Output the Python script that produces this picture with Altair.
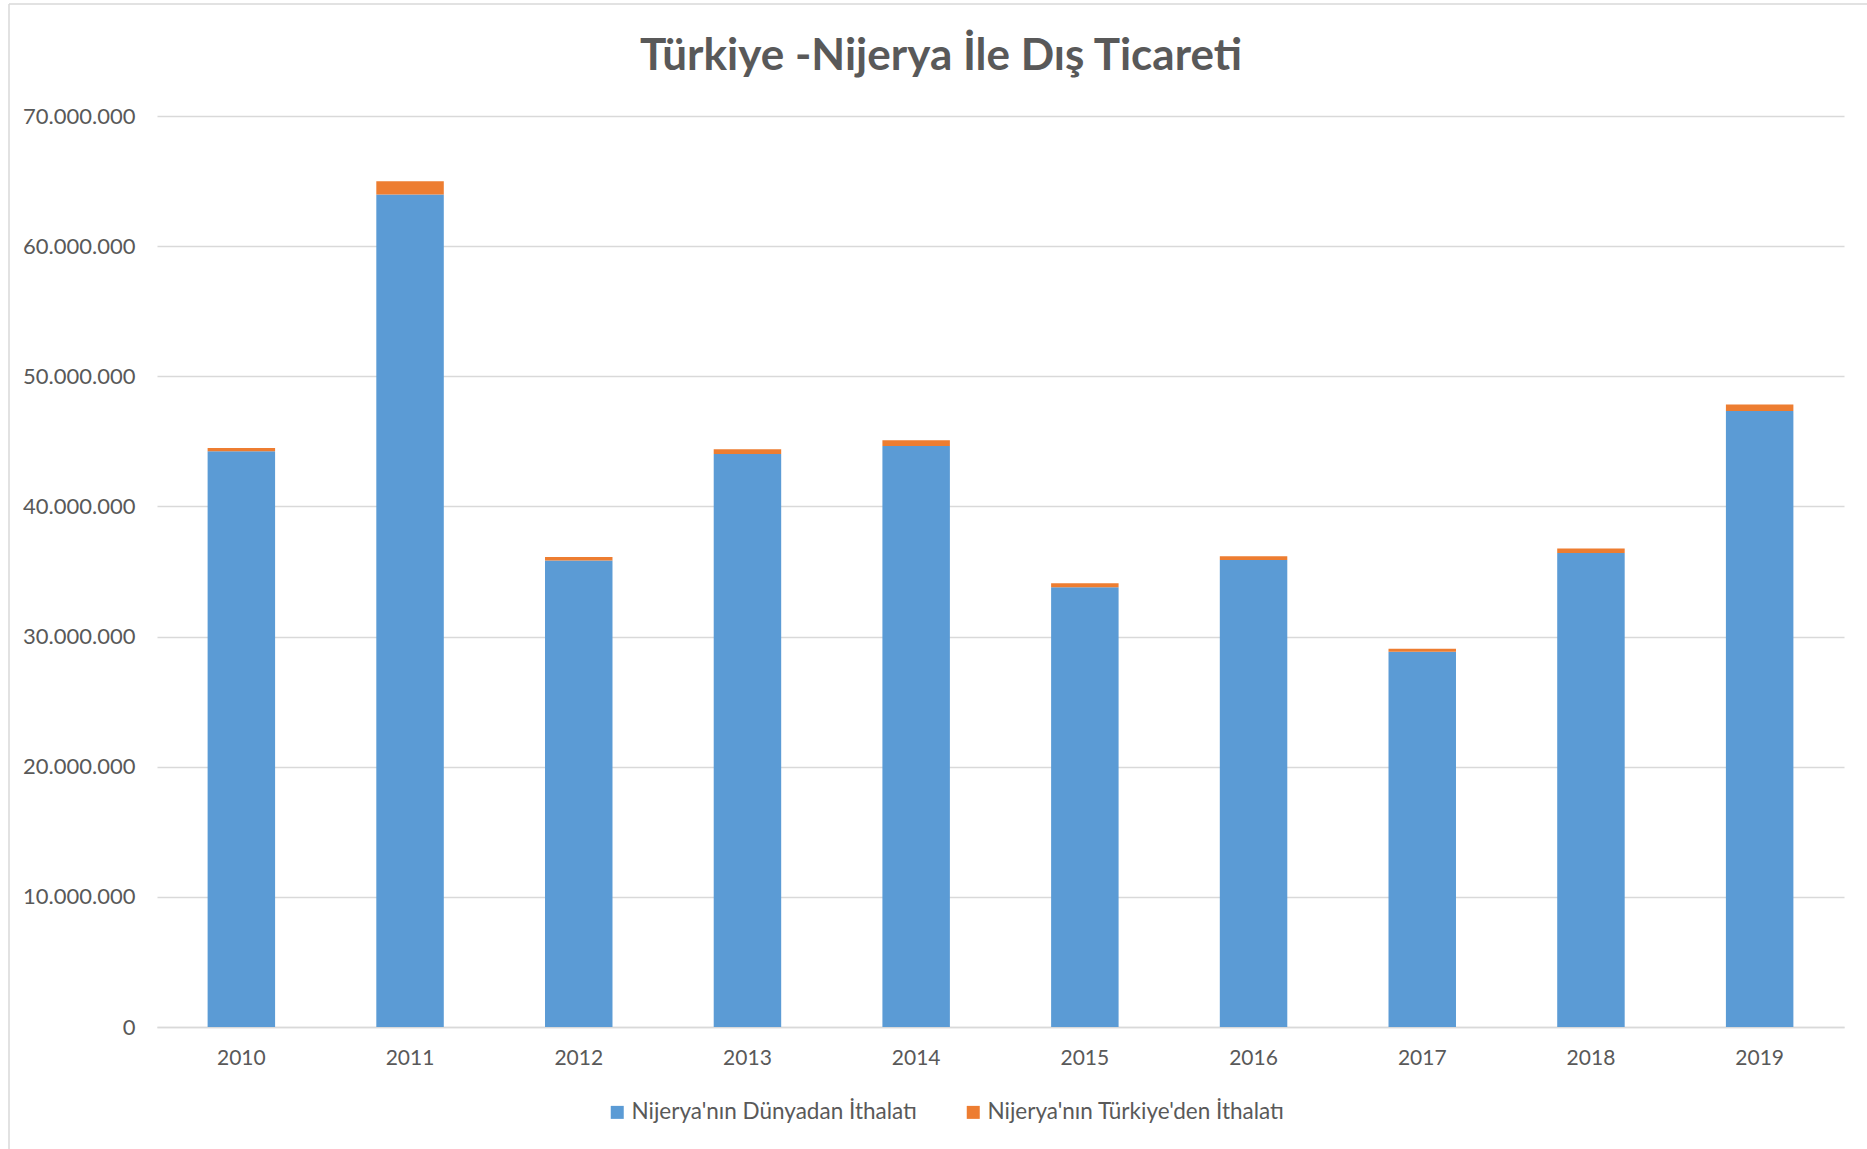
import altair as alt
import pandas as pd

years = ["2010", "2011", "2012", "2013", "2014", "2015", "2016", "2017", "2018", "2019"]
world = [44240000, 63960000, 35840000, 44030000, 44650000, 33790000, 35890000, 28830000, 36430000, 47340000]
turkey = [250000, 1020000, 280000, 360000, 430000, 310000, 290000, 230000, 340000, 490000]
series = ["Nijerya'nın Dünyadan İthalatı", "Nijerya'nın Türkiye'den İthalatı"]
colors = ["#5b9bd5", "#ed7d31"]
y_ticks = [0, 10000000, 20000000, 30000000, 40000000, 50000000, 60000000, 70000000]
title = "Türkiye -Nijerya İle Dış Ticareti"

rows = []
for i, yr in enumerate(years):
    rows.append({"year": yr, "series": series[0], "value": world[i], "ord": 0})
    rows.append({"year": yr, "series": series[1], "value": turkey[i], "ord": 1})
df = pd.DataFrame(rows)

FONT = "Lato"
GREY = "#595959"
GRID = "#d9d9d9"

bars = alt.Chart(df).mark_bar().encode(
    x=alt.X("year:N", sort=years, title=None,
            scale=alt.Scale(paddingInner=0.6, paddingOuter=0.3),
            axis=alt.Axis(labelAngle=0, ticks=False, domain=True, domainColor=GRID,
                          domainWidth=1.5, labelPadding=20, labelFontSize=21,
                          labelColor=GREY, labelFont=FONT)),
    y=alt.Y("value:Q", stack="zero", title=None,
            scale=alt.Scale(domain=[0, 70000000], nice=False),
            axis=alt.Axis(values=y_ticks,
                          labelExpr="replace(replace(format(datum.value, ','), ',', '.'), ',', '.')",
                          ticks=False, domain=False,
                          gridColor=GRID, gridWidth=1.5, labelPadding=22,
                          labelFontSize=22, labelColor=GREY, labelFont=FONT)),
    color=alt.Color("series:N", scale=alt.Scale(domain=series, range=colors),
                    legend=alt.Legend(title=None, orient="none", direction="horizontal",
                                      legendX=449, legendY=985, symbolType="square",
                                      symbolSize=169, symbolStrokeWidth=0,
                                      labelFontSize=22.5, labelColor=GREY, labelFont=FONT,
                                      labelLimit=500, labelOffset=3, columnPadding=45)),
    order=alt.Order("ord:Q"),
)

title_df = pd.DataFrame({"t": [title]})
title_mark = alt.Chart(title_df).mark_text(
    font=FONT, fontSize=44, fontWeight="bold", color=GREY, align="center", baseline="alphabetic"
).encode(text="t:N", x=alt.value(784), y=alt.value(-46))

border_df = pd.DataFrame({"a": [0]})
left_border = alt.Chart(border_df).mark_rule(color=GRID, strokeWidth=1.5).encode(
    x=alt.value(-148), y=alt.value(-112), y2=alt.value(1033))
top_border = alt.Chart(border_df).mark_rule(color=GRID, strokeWidth=1.5).encode(
    x=alt.value(-148), x2=alt.value(1710), y=alt.value(-112))

chart = alt.layer(bars, title_mark, left_border, top_border).properties(
    width=1687, height=911,
    autosize=alt.AutoSizeParams(type="none"),
    padding={"left": 157, "top": 116, "right": 23, "bottom": 122},
).configure(background="white").configure_view(stroke=None)

chart.save("out.html", embed_options={"renderer": "svg", "actions": False})
